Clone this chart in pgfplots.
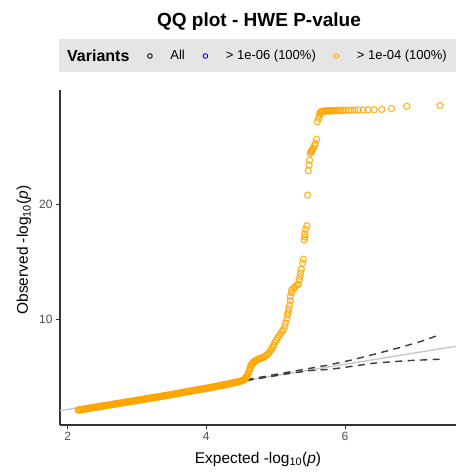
\documentclass[border=0pt]{standalone}
\usepackage{fontspec}
\setmainfont{Liberation Sans}
\usepackage{pgfplots}
\pgfplotsset{compat=1.18}
\definecolor{qqorange}{HTML}{FFA500}
\definecolor{legbg}{HTML}{E5E5E5}
\definecolor{tickgray}{HTML}{4D4D4D}
\definecolor{axisgray}{HTML}{333333}
\definecolor{refgray}{HTML}{C8C8C8}
\definecolor{bandgray}{HTML}{3A3A3A}

\begin{document}
\begin{tikzpicture}[x=1pt,y=1pt]
\useasboundingbox (0pt,0pt) rectangle (456pt,475pt);
\fill[legbg] (59pt,403pt) rectangle (456pt,436pt);
\node[font=\bfseries\fontsize{19}{21}\selectfont, anchor=base] at (259pt,448pt) {QQ plot - HWE P-value};
\begin{axis}[
  at={(60pt,50pt)}, anchor=south west,
  scale only axis, width=396pt, height=335pt,
  xmin=1.89, xmax=7.60, ymin=0.75, ymax=29.97,
  axis x line*=bottom, axis y line*=left,
  axis line style={axisgray, line width=1.1pt, -},
  xtick={2,4,6}, ytick={10,20},
  tick style={axisgray, line width=0.9pt},
  tick align=outside, major tick length=4pt,
  ticklabel style={font=\fontsize{12}{12}\selectfont, text=tickgray},
  /pgf/number format/assume math mode=true,
  xlabel={Expected -log\textsubscript{10}(\textit{p})},
  ylabel={Observed -log\textsubscript{10}(\textit{p})},
  label style={font=\fontsize{15.5}{16}\selectfont},
  xlabel style={at={(axis description cs:0.5,-0.114)}, anchor=base},
  ylabel style={at={(axis description cs:-0.081,0.522)}, anchor=base},
  legend columns=-1,
  legend style={at={(axis description cs:0.005,1.1015)}, anchor=west, draw=none, fill=none,
    font=\fontsize{13}{13}\selectfont,
    /tikz/every even column/.append style={column sep=12pt}},
  legend image code/.code={\draw[#1] plot coordinates {(0pt,0pt)}; \path[draw=none,fill=none] (-6.5pt,-1pt) rectangle (18.5pt,1pt);},
]
\addlegendimage{empty legend}
\addlegendentry{\fontsize{16}{16}\selectfont\bfseries Variants}
\addlegendimage{only marks, mark=o, mark size=2.3pt, black, mark options={line width=0.9pt}}
\addlegendentry{All}
\addlegendimage{only marks, mark=o, mark size=2.3pt, blue, mark options={line width=0.9pt}}
\addlegendentry{> 1e-06 (100\%)}
\addlegendimage{only marks, mark=o, mark size=2.3pt, qqorange, mark options={line width=0.9pt}}
\addlegendentry{> 1e-04 (100\%)}

\addplot[only marks, mark=o, mark size=3.1pt, qqorange, mark options={line width=1.2pt, draw opacity=0.8}, forget plot] table {
x y
2.15 2.05
2.165 2.065
2.18 2.08
2.195 2.095
2.21 2.11
2.225 2.125
2.24 2.14
2.255 2.155
2.27 2.17
2.285 2.185
2.30 2.20
2.315 2.215
2.33 2.23
2.345 2.245
2.36 2.26
2.375 2.275
2.39 2.29
2.405 2.305
2.42 2.32
2.435 2.335
2.45 2.35
2.465 2.365
2.48 2.38
2.495 2.395
2.51 2.41
2.525 2.425
2.54 2.44
2.555 2.455
2.57 2.47
2.585 2.485
2.60 2.50
2.615 2.515
2.63 2.53
2.645 2.545
2.66 2.56
2.675 2.575
2.69 2.59
2.705 2.605
2.72 2.62
2.735 2.635
2.75 2.65
2.765 2.665
2.78 2.68
2.795 2.695
2.81 2.71
2.825 2.725
2.84 2.74
2.855 2.755
2.87 2.77
2.885 2.785
2.90 2.80
2.915 2.815
2.93 2.83
2.945 2.845
2.96 2.86
2.975 2.875
2.99 2.89
3.005 2.905
3.02 2.92
3.035 2.935
3.05 2.95
3.065 2.965
3.08 2.98
3.095 2.995
3.11 3.01
3.125 3.025
3.14 3.04
3.155 3.055
3.17 3.07
3.185 3.085
3.20 3.10
3.215 3.115
3.23 3.13
3.245 3.145
3.26 3.16
3.275 3.175
3.29 3.19
3.305 3.205
3.32 3.22
3.335 3.235
3.35 3.25
3.365 3.265
3.38 3.28
3.395 3.30
3.41 3.32
3.425 3.335
3.44 3.35
3.455 3.365
3.47 3.38
3.485 3.395
3.50 3.41
3.515 3.425
3.53 3.44
3.545 3.46
3.56 3.48
3.575 3.495
3.59 3.51
3.605 3.525
3.62 3.54
3.635 3.555
3.65 3.57
3.665 3.59
3.68 3.61
3.695 3.625
3.71 3.64
3.725 3.655
3.74 3.67
3.755 3.69
3.77 3.71
3.785 3.725
3.80 3.74
3.815 3.755
3.83 3.77
3.845 3.785
3.86 3.80
3.875 3.82
3.89 3.84
3.905 3.855
3.92 3.87
3.935 3.885
3.95 3.90
3.965 3.915
3.98 3.93
3.995 3.945
4.01 3.96
4.025 3.98
4.04 4.00
4.055 4.015
4.07 4.03
4.085 4.05
4.10 4.07
4.115 4.085
4.13 4.10
4.145 4.12
4.16 4.14
4.175 4.155
4.19 4.17
4.205 4.19
4.22 4.21
4.235 4.23
4.25 4.25
4.265 4.265
4.28 4.28
4.295 4.30
4.31 4.32
4.325 4.34
4.34 4.36
4.355 4.38
4.37 4.40
4.385 4.42
4.40 4.44
4.415 4.46
4.43 4.48
4.445 4.50
4.46 4.52
4.475 4.545
4.49 4.57
4.505 4.60
4.52 4.63
4.535 4.675
4.55 4.72
4.56 4.78
4.57 4.85
4.58 4.95
4.59 5.05
4.60 5.18
4.61 5.30
4.62 5.50
4.63 5.70
4.64 5.90
4.65 5.98
4.66 6.05
4.67 6.13
4.68 6.20
4.69 6.26
4.70 6.32
4.72 6.40
4.74 6.47
4.76 6.52
4.78 6.56
4.80 6.60
4.82 6.65
4.84 6.72
4.86 6.80
4.88 6.90
4.90 7.02
4.92 7.18
4.94 7.35
4.96 7.55
4.97 7.73
4.99 7.95
5.01 8.15
5.03 8.35
5.05 8.55
5.07 8.72
5.09 8.90
5.11 9.05
5.13 9.35
5.14 9.65
5.16 10.00
5.17 10.35
5.18 10.60
5.19 10.90
5.20 11.22
5.21 11.60
5.21 11.94
5.23 12.30
5.23 12.53
5.26 12.65
5.28 12.82
5.31 12.95
5.33 13.05
5.34 13.40
5.35 13.69
5.36 14.00
5.37 14.33
5.39 14.86
5.40 15.20
5.41 16.89
5.42 17.15
5.42 17.41
5.43 17.82
5.45 18.13
5.46 20.81
5.47 22.93
5.48 23.43
5.49 23.86
5.50 24.45
5.51 24.60
5.52 24.67
5.53 24.75
5.54 24.88
5.56 25.10
5.57 25.30
5.59 25.67
5.60 27.20
5.62 27.50
5.63 27.75
5.64 27.93
5.65 28.05
5.66 28.10
5.68 28.12
5.70 28.13
5.72 28.14
5.74 28.15
5.76 28.15
5.78 28.16
5.80 28.16
5.83 28.17
5.85 28.17
5.88 28.18
5.91 28.18
5.94 28.19
5.97 28.19
6.01 28.20
6.05 28.21
6.09 28.21
6.14 28.22
6.19 28.22
6.26 28.23
6.33 28.24
6.42 28.25
6.53 28.28
6.67 28.35
6.89 28.55
7.37 28.62
};

\addplot[refgray, line width=1.4pt, forget plot] coordinates {(1.89,2.00) (7.60,7.62)};

\addplot[bandgray, line width=1.4pt, dash pattern=on 7pt off 5.5pt, forget plot] coordinates {
(4.58,4.70) (4.90,5.05) (5.20,5.38) (5.50,5.70) (5.76,5.98) (5.93,6.20) (6.10,6.43) (6.48,7.01) (6.84,7.59) (7.10,8.05) (7.37,8.63)};
\addplot[bandgray, line width=1.4pt, dash pattern=on 7pt off 5.5pt, forget plot] coordinates {
(4.58,4.62) (4.90,4.95) (5.20,5.25) (5.50,5.50) (5.76,5.60) (5.93,5.72) (6.41,6.14) (6.89,6.36) (7.37,6.49)};
\end{axis}
\end{tikzpicture}
\end{document}
